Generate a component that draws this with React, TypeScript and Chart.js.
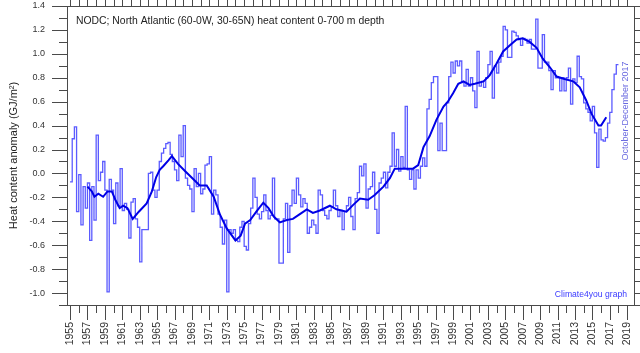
import React, { useEffect, useRef } from 'react';
import { Chart, registerables } from 'chart.js';

Chart.register(...registerables);

// ---- Data -------------------------------------------------------------
// Quarterly heat content anomaly (GJ/m2), North Atlantic 0-700 m, starting 1955 Q1
const FIRST_YEAR = 1955;
const LAST_EDGE_YEAR = 2018; // end of Oct-Dec 2017

const quarterly1955to1962 = [
  -0.07, 0.29, 0.39, -0.32, -0.01, -0.43, -0.11, -0.29, -0.08, -0.56, -0.11, -0.39,
  0.32, -0.06, 0.01, 0.1, -0.14, -0.99, -0.05, -0.14, -0.42, -0.08, -0.27, 0.04,
  -0.31, -0.25, -0.3, -0.54, -0.24, -0.21, -0.38,
];
const quarterly1962to1970 = [
  -0.45, -0.74, -0.47, -0.47, -0.47, 0.0, 0.01, -0.14, -0.2, -0.14, 0.1, 0.17,
  0.21, 0.25, 0.26, 0.16, 0.1, 0.03, -0.06, 0.32, 0.14, 0.4, -0.04, -0.1,
  -0.13, -0.32, 0.04, -0.11, 0.0, -0.17, -0.13, 0.07,
];
const quarterly1970to1978 = [
  0.08, 0.14, -0.34, -0.14, -0.18, -0.34, -0.45, -0.59, -0.39, -0.99, -0.47, -0.5,
  -0.47, -0.56, -0.57, -0.45, -0.4, -0.61, -0.64, -0.42, -0.29, -0.04, -0.2, -0.34,
  -0.38, -0.32, -0.18, -0.31, -0.38, -0.35, -0.04, -0.38,
];
const quarterly1978to1986 = [
  -0.38, -0.75, -0.75, -0.38, -0.25, -0.66, -0.27, -0.14, -0.25, -0.04, -0.18, -0.28,
  -0.21, -0.25, -0.5, -0.45, -0.39, -0.43, -0.5, -0.14, -0.18, -0.31, -0.35, -0.38,
  -0.31, -0.28, -0.14, -0.27, -0.36, -0.31, -0.47, -0.32, -0.27,
];
const quarterly1987to1994 = [
  -0.2, -0.36, -0.47, -0.21, -0.16, 0.06, -0.02, 0.08, -0.29, -0.13, -0.11, 0.01,
  -0.3, -0.5, -0.08, -0.04, 0.01, -0.12, 0.01, 0.06, 0.34, 0.06, 0.2, 0.02,
  0.14, 0.05, 0.56, 0.03, -0.05, 0.03, -0.13, 0.03,
];
const quarterly1995to2002 = [
  -0.04, 0.06, 0.13, 0.06, 0.54, 0.62, 0.76, 0.81, 0.81, 0.19, 0.42, 0.19,
  0.19, 0.59, 0.81, 0.93, 0.84, 0.94, 0.9, 0.94, 0.76, 0.73, 0.87, 0.73,
  0.8, 0.69, 0.55, 1.02, 0.73, 0.77, 0.72, 0.8,
];
const quarterly2003to2010 = [
  0.91, 1.02, 0.63, 0.9, 0.84, 0.93, 0.98, 1.23, 1.2, 0.97, 0.97, 1.19,
  1.18, 1.15, 1.12, 1.07, 1.13, 1.12, 1.09, 1.12, 1.04, 1.04, 1.29, 0.88,
  0.88, 1.16, 0.93, 0.93, 0.86, 0.7, 0.86, 0.8,
];
const quarterly2011to2017 = [
  0.8, 0.69, 0.8, 0.69, 0.8, 0.88, 0.58, 0.79, 0.76, 0.98, 0.81, 0.79,
  0.59, 0.54, 0.51, 0.44, 0.56, 0.34, 0.05, 0.37, 0.28, 0.27, 0.3, 0.42,
  0.51, 0.7, 0.83, 0.91,
];

// 37-month running average (thick line)
const runningMeanYears = [
  1957.0, 1957.5, 1957.8, 1958.25, 1958.8, 1959.3, 1959.8, 1960.2, 1960.7, 1961.1,
  1961.6, 1962.2, 1962.9, 1963.8, 1964.4, 1964.9, 1965.3, 1965.7, 1966.3, 1966.7,
  1967.4, 1968.2, 1969.2, 1969.9, 1970.7, 1971.5, 1972.2, 1973.0, 1974.0, 1974.6,
  1975.1, 1975.7, 1976.4, 1977.2, 1977.8, 1978.4, 1979.1, 1979.9, 1980.6, 1981.4,
  1982.2, 1982.9, 1983.7, 1984.85, 1985.6, 1986.76, 1987.5, 1988.3, 1989.25, 1990.0,
  1991.0, 1991.74, 1992.3, 1993.3, 1994.4, 1995.0, 1995.6, 1996.3, 1997.1, 1997.9,
  1998.4, 1999.0, 1999.6, 2000.2, 2000.9, 2001.5, 2002.5, 2003.2, 2004.0, 2004.75,
  2005.5, 2006.3, 2007.0, 2007.8, 2008.6, 2009.3, 2010.1, 2010.9, 2011.8, 2012.8,
  2013.55, 2014.3, 2014.9, 2015.7, 2016.0, 2016.6,
];
const runningMeanValues = [
  -0.11, -0.15, -0.195, -0.17, -0.195, -0.15, -0.15, -0.22, -0.29, -0.27,
  -0.29, -0.38, -0.32, -0.25, -0.15, -0.03, 0.03, 0.06, 0.11, 0.145,
  0.08, 0.02, -0.05, -0.1, -0.1, -0.195, -0.34, -0.46, -0.56, -0.52,
  -0.42, -0.39, -0.32, -0.245, -0.29, -0.36, -0.41, -0.39, -0.38, -0.34,
  -0.3, -0.33, -0.31, -0.27, -0.3, -0.32, -0.265, -0.21, -0.22, -0.18,
  -0.11, -0.04, 0.04, 0.04, 0.04, 0.07, 0.22, 0.31, 0.45, 0.56,
  0.6, 0.67, 0.75, 0.77, 0.74, 0.75, 0.77, 0.82, 0.92, 1.02,
  1.07, 1.12, 1.13, 1.1, 1.05, 0.96, 0.89, 0.81, 0.79, 0.77,
  0.72, 0.61, 0.5, 0.4, 0.4, 0.47,
];

// Axis ticks
const xTickYears = Array.from({ length: 2019 - 1955 + 1 }, (_, i) => 1955 + i);
const yTickValues = [-1.0, -0.8, -0.6, -0.4, -0.2, 0.0, 0.2, 0.4, 0.6, 0.8, 1.0, 1.2, 1.4];

const TITLE = 'NODC; North Atlantic (60-0W, 30-65N) heat content 0-700 m depth';
const Y_TITLE = 'Heat content anomaly (GJ/m\u00B2)';
const PERIOD_NOTE = 'October-December 2017';
const CREDIT = 'Climate4you graph';

// ---- Chart ------------------------------------------------------------
const FONT = '"Liberation Sans", Arial, sans-serif';
const AXIS_COLOR = '#4a4a4a';

const decorPlugin = {
  id: 'decor',
  afterDraw(chart: any) {
    const { ctx, chartArea } = chart;
    const { left, right, top, bottom } = chartArea;
    const x = chart.scales.x;
    const y = chart.scales.y;
    ctx.save();
    ctx.strokeStyle = AXIS_COLOR;
    ctx.lineWidth = 1;
    // frame
    ctx.strokeRect(left + 0.5, top + 0.5, right - left - 1, bottom - top);
    ctx.beginPath();
    // year ticks, bottom (outward) and top (outward)
    xTickYears.forEach((yr) => {
      const px = Math.round(x.getPixelForValue(yr)) + 0.5;
      const len = yr % 2 === 1 ? 15 : 8;
      ctx.moveTo(px, bottom);
      ctx.lineTo(px, bottom + len);
      ctx.moveTo(px, top);
      ctx.lineTo(px, top - 6);
    });
    // 0.1 ticks, left (outward, long at labelled values) and right (outward)
    for (let k = -11; k <= 14; k++) {
      const v = k / 10;
      const py = Math.round(y.getPixelForValue(v)) + 0.5;
      const major = k % 2 === 0;
      ctx.moveTo(left, py);
      ctx.lineTo(left - (major ? 15 : 8), py);
      ctx.moveTo(right, py);
      ctx.lineTo(right + 5, py);
    }
    ctx.stroke();

    // texts
    ctx.fillStyle = '#222';
    ctx.font = `10.4px ${FONT}`;
    ctx.textAlign = 'left';
    ctx.textBaseline = 'middle';
    ctx.fillText(TITLE, left + 9, top + 15);

    ctx.fillStyle = '#3a3aff';
    ctx.font = `8.6px ${FONT}`;
    ctx.textAlign = 'right';
    ctx.fillText(CREDIT, right - 8, bottom - 10);

    ctx.save();
    ctx.translate(right - 9, top + 105);
    ctx.rotate(-Math.PI / 2);
    ctx.fillStyle = '#6a6ae0';
    ctx.font = `9px ${FONT}`;
    ctx.textAlign = 'center';
    ctx.textBaseline = 'middle';
    ctx.fillText(PERIOD_NOTE, 0, 0);
    ctx.restore();

    ctx.restore();
  },
};

function buildStepPoints() {
  const all = [
    ...quarterly1955to1962,
    ...quarterly1962to1970,
    ...quarterly1970to1978,
    ...quarterly1978to1986,
    ...quarterly1987to1994,
    ...quarterly1995to2002,
    ...quarterly2003to2010,
    ...quarterly2011to2017,
  ];
  const pts = all.map((v, i) => ({ x: FIRST_YEAR + i / 4, y: v }));
  pts.push({ x: LAST_EDGE_YEAR, y: all[all.length - 1] });
  return pts;
}

export default function App() {
  const ref = useRef<HTMLCanvasElement | null>(null);

  useEffect(() => {
    if (!ref.current) return;
    const stepPoints = buildStepPoints();
    const meanPoints = runningMeanYears.map((yr, i) => ({ x: yr, y: runningMeanValues[i] }));
    const chart = new Chart(ref.current, {
      type: 'line',
      data: {
        datasets: [
          {
            data: meanPoints,
            borderColor: '#0000e6',
            borderWidth: 2,
            pointRadius: 0,
            tension: 0,
            fill: false,
            order: 1,
          },
          {
            data: stepPoints,
            borderColor: 'rgba(50,50,255,0.8)',
            borderWidth: 1.3,
            pointRadius: 0,
            stepped: true,
            fill: false,
            order: 2,
          },
        ],
      },
      options: {
        animation: false,
        responsive: false,
        maintainAspectRatio: false,
        layout: { padding: { top: 6, right: 5, left: 0, bottom: 0 } },
        plugins: { legend: { display: false }, tooltip: { enabled: false } },
        scales: {
          x: {
            type: 'linear',
            min: 1954.65,
            max: 2019.9,
            grid: { display: false, drawTicks: false },
            border: { display: false },
            afterBuildTicks: (s: any) => {
              s.ticks = xTickYears.map((v) => ({ value: v }));
            },
            afterFit: (s: any) => {
              s.height = 48;
              s.paddingLeft = 0;
              s.paddingRight = 0;
            },
            ticks: {
              autoSkip: false,
              minRotation: 90,
              maxRotation: 90,
              padding: 17,
              color: '#333',
              font: { family: FONT, size: 10.5 },
              callback: (v: any) => (Math.round(v) % 2 === 1 ? String(Math.round(v)) : ''),
            },
          },
          y: {
            type: 'linear',
            min: -1.1,
            max: 1.4,
            grid: { display: false, drawTicks: false },
            border: { display: false },
            afterBuildTicks: (s: any) => {
              s.ticks = yTickValues.map((v) => ({ value: v }));
            },
            afterFit: (s: any) => {
              s.width = 67;
              s.paddingTop = 0;
              s.paddingBottom = 0;
            },
            ticks: {
              padding: 22,
              color: '#333',
              font: { family: FONT, size: 9 },
              callback: (v: any) => Number(v).toFixed(1),
            },
            title: {
              display: true,
              text: Y_TITLE,
              color: '#222',
              font: { family: FONT, size: 11 },
              padding: { top: 7, bottom: 0 },
            },
          },
        },
      },
      plugins: [decorPlugin],
    });
    return () => chart.destroy();
  }, []);

  return (
    <div style={{ position: 'fixed', left: 0, top: 0, width: 640, height: 353, background: '#fff' }}>
      <canvas ref={ref} width={640} height={353} style={{ display: 'block', width: 640, height: 353 }} />
    </div>
  );
}
